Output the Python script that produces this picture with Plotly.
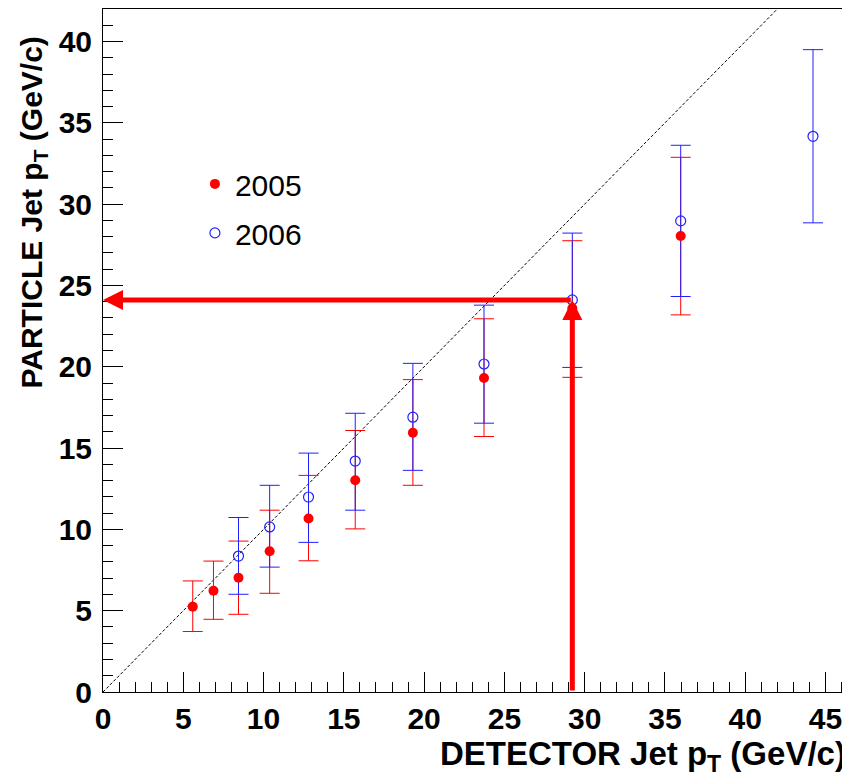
import plotly.graph_objects as go

# ---------------- data ----------------
x_2005 = [5.59, 6.88, 8.44, 10.38, 12.8, 15.71, 19.3, 23.73, 29.23, 35.98]
y_2005 = [5.25, 6.23, 7.03, 8.66, 10.67, 13.02, 15.94, 19.31, 23.6, 28.04]
hi_2005 = [6.83, 8.05, 9.28, 11.18, 13.32, 16.08, 19.21, 22.95, 27.75, 32.88]
lo_2005 = [3.72, 4.47, 4.78, 6.07, 8.07, 10.03, 12.71, 15.71, 19.35, 23.19]

x_2006 = [8.44, 10.38, 12.8, 15.71, 19.3, 23.73, 29.23, 35.98, 44.22]
y_2006 = [8.36, 10.15, 11.99, 14.2, 16.9, 20.17, 24.11, 28.97, 34.17]
hi_2006 = [10.73, 12.71, 14.69, 17.14, 20.21, 23.79, 28.22, 33.62, 39.5]
lo_2006 = [6.01, 7.68, 9.2, 11.18, 13.63, 16.53, 19.96, 24.32, 28.85]

diag_x = [0, 42]
diag_y = [0, 42]

work_detector = 29.23
work_particle = 24.1

x_range = [0, 46.4]
y_range = [0, 42]
x_ticks = [0, 5, 10, 15, 20, 25, 30, 35, 40, 45]
y_ticks = [0, 5, 10, 15, 20, 25, 30, 35, 40]

RED = "#ff0000"
BLUE = "#2020ff"
FONT = "Liberation Sans, Arial, sans-serif"

fig = go.Figure()

# diagonal y = x
fig.add_trace(go.Scatter(x=diag_x, y=diag_y, mode="lines",
                         line=dict(color="black", width=1, dash="3px,2px"),
                         showlegend=False, hoverinfo="skip"))

# red error bars (drawn under the blue ones)
fig.add_trace(go.Scatter(
    x=x_2005, y=y_2005, mode="markers",
    marker=dict(size=10, color="rgba(0,0,0,0)"),
    error_y=dict(type="data", symmetric=False,
                 array=[h - v for h, v in zip(hi_2005, y_2005)],
                 arrayminus=[v - l for v, l in zip(y_2005, lo_2005)],
                 color=RED, thickness=1, width=10),
    showlegend=False, hoverinfo="skip"))

# 2006 blue open circles with error bars
fig.add_trace(go.Scatter(
    x=x_2006, y=y_2006, mode="markers", name="2006",
    marker=dict(size=10, symbol="circle-open", color=BLUE, line=dict(width=1.2, color=BLUE)),
    error_y=dict(type="data", symmetric=False,
                 array=[h - v for h, v in zip(hi_2006, y_2006)],
                 arrayminus=[v - l for v, l in zip(y_2006, lo_2006)],
                 color=BLUE, thickness=1, width=10),
    legendrank=2, legendgroup="b"))

# 2005 red filled markers on top
fig.add_trace(go.Scatter(
    x=x_2005, y=y_2005, mode="markers", name="2005",
    marker=dict(size=10, symbol="circle", color=RED),
    legendrank=1, legendgroup="a"))

# arrows
fig.add_annotation(x=0, y=work_particle, ax=work_detector, ay=work_particle,
                   xref="x", yref="y", axref="x", ayref="y", text="",
                   showarrow=True, arrowhead=2, arrowsize=0.8, arrowwidth=5,
                   arrowcolor=RED)
fig.add_annotation(x=work_detector, y=work_particle, ax=work_detector, ay=0,
                   xref="x", yref="y", axref="x", ayref="y", text="",
                   showarrow=True, arrowhead=2, arrowsize=0.8, arrowwidth=5,
                   arrowcolor=RED)

# axis titles (ROOT style, aligned to the axis ends)
fig.add_annotation(text="DETECTOR Jet p<sub>T</sub> (GeV/c)", xref="paper", yref="paper",
                   x=1, y=0, xanchor="right", yanchor="top", yshift=-41, showarrow=False,
                   font=dict(family=FONT, size=33, color="black", weight="bold"))
fig.add_annotation(text="PARTICLE Jet p<sub>T</sub> (GeV/c)", xref="paper", yref="paper",
                   x=0, y=1, xanchor="right", yanchor="top", xshift=-50, yshift=-26,
                   textangle=-90, showarrow=False,
                   font=dict(family=FONT, size=30, color="black", weight="bold"))

axis_common = dict(showgrid=False, zeroline=False, showline=True, mirror=True,
                   automargin=False,
                   linecolor="black", linewidth=1, ticks="inside", ticklen=20,
                   tickcolor="black", tickwidth=1,
                   tickfont=dict(family=FONT, size=30, color="black", weight="bold"))

fig.update_xaxes(range=x_range, tickvals=x_ticks, ticklabelstandoff=0,
                 minor=dict(dtick=1, tick0=0, ticks="inside", ticklen=10, tickcolor="black"),
                 **axis_common)
fig.update_yaxes(range=y_range, tickvals=y_ticks, ticklabelstandoff=4,
                 minor=dict(dtick=1, tick0=0, ticks="inside", ticklen=10, tickcolor="black"),
                 **axis_common)

# the page body adds an 8px offset; size the figure so the plot frame lands
# where the reference has it
fig.update_layout(
    width=842, height=769,
    margin=dict(l=95, r=2, t=1, b=85),
    plot_bgcolor="white", paper_bgcolor="white",
    legend=dict(x=0.1234, y=0.782, xanchor="left", yanchor="top",
                bgcolor="rgba(0,0,0,0)", font=dict(family=FONT, size=30, color="black"),
                itemwidth=30, tracegroupgap=7, traceorder="grouped"),
)

fig.write_html("out.html")
